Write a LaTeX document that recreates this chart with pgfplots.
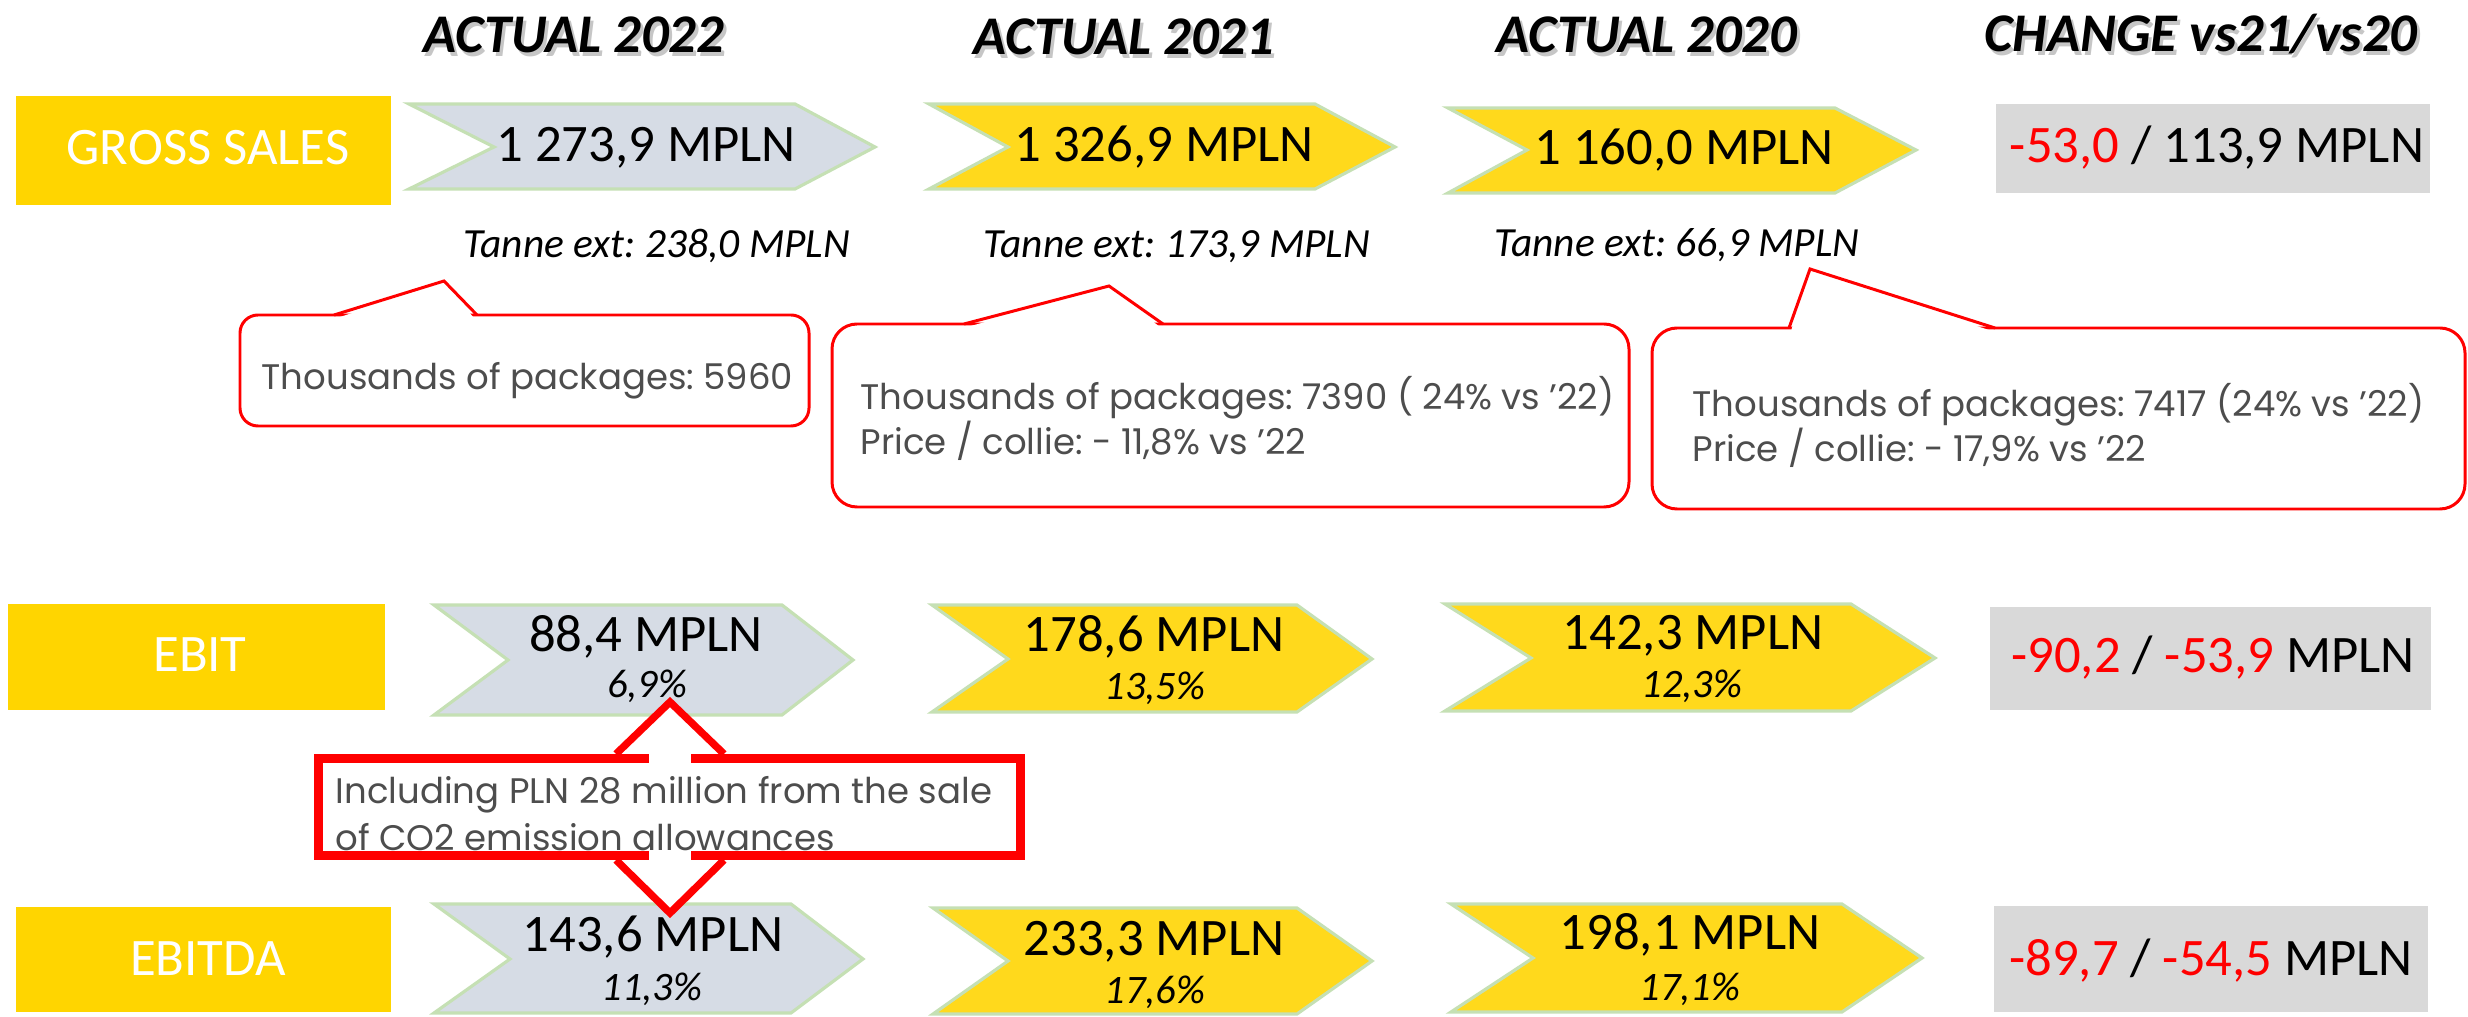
\documentclass[border=0pt]{standalone}
\usepackage{fontspec}
\setmainfont{Carlito}
\newfontfamily\gothic{Poppins}
\usepackage{pgfplots}
\pgfplotsset{compat=1.18}
\frenchspacing

\definecolor{lblyellow}{HTML}{FFD500}
\definecolor{chevyellow}{HTML}{FFD91C}
\definecolor{chevgrey}{HTML}{D6DCE5}
\definecolor{chevedge}{HTML}{C5E0B4}
\definecolor{boxgrey}{HTML}{D9D9D9}
\definecolor{notegrey}{HTML}{4D4D4D}

% one unit = one pixel of the 2468 x 1017 reference, y pointing down
\newcommand{\hdr}[3]{%
  \node[anchor=base, inner sep=0pt, text=gray!45, xshift=0.3mm, yshift=-0.35mm,
        font=\fontsize{15.5}{18}\selectfont\bfseries\itshape] at (axis cs:#1,#2) {#3};
  \node[anchor=base, inner sep=0pt, font=\fontsize{15.5}{18}\selectfont\bfseries\itshape] at (axis cs:#1,#2) {#3};}
\newcommand{\lbl}[3]{\node[anchor=base, inner sep=0pt, text=white, font=\fontsize{15}{18}\selectfont] at (axis cs:#1,#2) {#3};}
\newcommand{\val}[3]{\node[anchor=base, inner sep=0pt, font=\fontsize{15}{18}\selectfont] at (axis cs:#1,#2) {#3};}
\newcommand{\pct}[3]{\node[anchor=base, inner sep=0pt, font=\fontsize{11.5}{14}\selectfont\itshape] at (axis cs:#1,#2) {#3};}
\newcommand{\tanne}[3]{\node[anchor=base, inner sep=0pt, font=\fontsize{11.8}{14}\selectfont\itshape] at (axis cs:#1,#2) {#3};}
\newcommand{\note}[3]{\node[anchor=base west, inner sep=0pt, text=notegrey, font=\gothic\fontsize{10.1}{12}\selectfont] at (axis cs:#1,#2) {#3};}

\begin{document}
\begin{tikzpicture}
\begin{axis}[
    width=246.8mm, height=101.7mm, scale only axis,
    xmin=0, xmax=2468, ymin=0, ymax=1017, y dir=reverse,
    hide axis, clip=false,
    chev/.style={draw=chevedge, line width=0.9pt, line join=miter},
    callout/.style={draw=red, line width=0.85pt},
]
% background
\addplot[fill=white, draw=none] coordinates {(0,0) (2468,0) (2468,1017) (0,1017)} --cycle;

% row labels
\addplot[fill=lblyellow, draw=none] coordinates {(16,96) (391,96) (391,205) (16,205)} --cycle;
\addplot[fill=lblyellow, draw=none] coordinates {(8,604) (385,604) (385,710) (8,710)} --cycle;
\addplot[fill=lblyellow, draw=none] coordinates {(16,907) (391,907) (391,1012) (16,1012)} --cycle;

% change boxes
\addplot[fill=boxgrey, draw=none] coordinates {(1996,104) (2430,104) (2430,193) (1996,193)} --cycle;
\addplot[fill=boxgrey, draw=none] coordinates {(1990,607) (2431,607) (2431,710) (1990,710)} --cycle;
\addplot[fill=boxgrey, draw=none] coordinates {(1994,906) (2428,906) (2428,1012) (1994,1012)} --cycle;

% gross sales chevrons
\addplot[chev, fill=chevgrey] coordinates {(409,104) (795,104) (875,147) (795,189) (409,189) (494,147)} --cycle;
\addplot[chev, fill=chevyellow] coordinates {(929,104) (1315,104) (1395,147) (1315,189) (929,189) (1008,147)} --cycle;
\addplot[chev, fill=chevyellow] coordinates {(1448,108) (1835,108) (1916,150) (1835,193) (1448,193) (1527,150)} --cycle;
% ebit chevrons
\addplot[chev, fill=chevgrey] coordinates {(434,605) (782,605) (853,660) (782,715) (434,715) (508,660)} --cycle;
\addplot[chev, fill=chevyellow] coordinates {(932,605) (1297,605) (1372,659) (1297,712) (932,712) (1008,659)} --cycle;
\addplot[chev, fill=chevyellow] coordinates {(1445,604) (1851,604) (1935,658) (1851,711) (1445,711) (1531,658)} --cycle;
% ebitda chevrons
\addplot[chev, fill=chevgrey] coordinates {(434,904) (791,904) (863,959) (791,1013) (434,1013) (510,959)} --cycle;
\addplot[chev, fill=chevyellow] coordinates {(933,908) (1297,908) (1372,961) (1297,1014) (933,1014) (1008,961)} --cycle;
\addplot[chev, fill=chevyellow] coordinates {(1451,904) (1842,904) (1922,958) (1842,1012) (1451,1012) (1533,958)} --cycle;

% callouts: rounded box, white patch over the base, pointer edges
\addplot[callout, rounded corners=1.8mm] coordinates {(560,315) (809,315) (809,426) (240,426) (240,315) (560,315)};
\addplot[fill=white, draw=none] coordinates {(337,318) (444,283) (474,318)} --cycle;
\addplot[callout] coordinates {(334,315) (444,281) (477,315)};

\addplot[callout, rounded corners=2.5mm] coordinates {(1300,324) (1629,324) (1629,507) (832,507) (832,324) (1300,324)};
\addplot[fill=white, draw=none] coordinates {(967,327) (1109,288) (1160,327)} --cycle;
\addplot[callout] coordinates {(964,324) (1109,286) (1163,324)};

\addplot[callout, rounded corners=2.5mm] coordinates {(2200,328) (2465,328) (2465,509) (1652,509) (1652,328) (2200,328)};
\addplot[fill=white, draw=none] coordinates {(1791,331) (1810,272) (1992,331)} --cycle;
\addplot[callout] coordinates {(1789,328) (1810,269) (1995,328)};

% note box with up/down arrow
\addplot[draw=red, line width=2.5pt] coordinates {(318.5,758.5) (1020.5,758.5) (1020.5,855.5) (318.5,855.5)} --cycle;
\addplot[fill=white, draw=none] coordinates {(649,750) (691,750) (691,766) (649,766)} --cycle;
\addplot[fill=white, draw=none] coordinates {(649,848) (691,848) (691,864) (649,864)} --cycle;
\addplot[draw=red, fill=white, line width=2.1pt] coordinates {(616,754) (670,702) (724,754)};
\addplot[draw=red, fill=white, line width=2.1pt] coordinates {(616,860) (670,913) (724,860)};

% headers
\hdr{574}{53}{ACTUAL 2022}
\hdr{1124}{55}{ACTUAL 2021}
\hdr{1647}{53}{ACTUAL 2020}
\hdr{2201}{52}{CHANGE vs21/vs20}

% row labels
\lbl{208}{165}{GROSS SALES}
\lbl{200}{672}{EBIT}
\lbl{208}{975}{EBITDA}

% gross sales
\val{646}{162}{1 273,9 MPLN}
\val{1164}{162}{1 326,9 MPLN}
\val{1684}{165}{1 160,0 MPLN}
\val{2217}{163}{\textcolor{red}{-53,0} / 113,9 MPLN}
\tanne{657}{258}{Tanne ext: 238,0 MPLN}
\tanne{1177}{258}{Tanne ext: 173,9 MPLN}
\tanne{1677}{257}{Tanne ext: 66,9 MPLN}

% callout texts
\note{261}{390}{Thousands of packages: 5960}
\note{860}{410}{Thousands of packages: 7390 ( 24\% vs ’22)}
\note{860}{455}{Price / collie: - 11,8\% vs ’22}
\note{1692}{417}{Thousands of packages: 7417 (24\% vs ’22)}
\note{1692}{462}{Price / collie: - 17,9\% vs ’22}

% ebit
\val{646}{652}{88,4 MPLN}
\pct{647}{698}{6,9\%}
\val{1154}{652}{178,6 MPLN}
\pct{1155}{700}{13,5\%}
\val{1693}{650}{142,3 MPLN}
\pct{1692}{698}{12,3\%}
\val{2213}{673}{\textcolor{red}{-90,2} / \textcolor{red}{-53,9} MPLN}

% note text
\note{335}{803}{Including PLN 28 million from the sale}
\note{335}{850}{of CO2 emission allowances}

% ebitda
\val{653}{952}{143,6 MPLN}
\pct{652}{1000}{11,3\%}
\val{1154}{955}{233,3 MPLN}
\pct{1155}{1003}{17,6\%}
\val{1690}{950}{198,1 MPLN}
\pct{1690}{1000}{17,1\%}
\val{2211}{975}{\textcolor{red}{-89,7} / \textcolor{red}{-54,5} MPLN}
\end{axis}
\end{tikzpicture}
\end{document}
